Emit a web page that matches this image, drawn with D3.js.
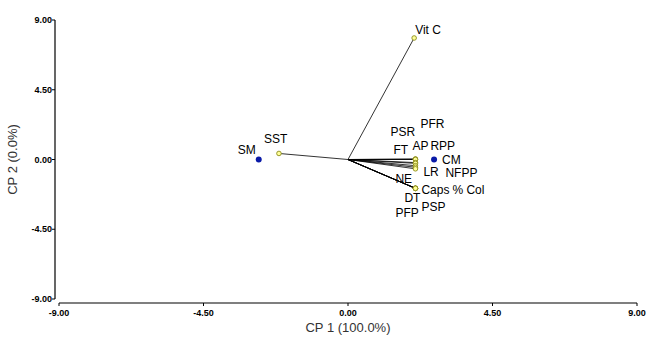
<!DOCTYPE html>
<html>
  <head>
    <meta charset="utf-8">
    <script src="https://d3js.org/d3.v7.min.js"></script>
    <style>
      body, html { margin: 0; padding: 0; background: #fff; overflow: hidden; }
      text { font-family: Arial, 'Liberation Sans', sans-serif; }
      .tickText { font-size: 9px; font-weight: bold; fill: #000; }
      .varLabel { font-size: 12px; fill: #000; }
      .axisTitle { font-size: 13px; fill: #333; }
    </style>
  </head>
  <body>
    <svg id="chart" width="651" height="345"></svg>
    <script>
      // variable loadings (CP 1, CP 2)
      const varNames = ["Vit C", "SST", "PFR", "PSR", "FT", "AP", "RPP", "LR", "NFPP", "NE", "Caps", "% Col", "DT", "PSP", "PFP"];
      const varX = [2.06, -2.15, 2.10, 2.10, 2.10, 2.10, 2.10, 2.10, 2.10, 2.10, 2.10, 2.10, 2.10, 2.10, 2.10];
      const varY = [7.84, 0.39, 0.03, 0.02, 0.0, -0.2, -0.25, -0.4, -0.5, -0.6, -1.86, -1.86, -1.86, -1.86, -1.86];
      // treatment scores
      const objNames = ["SM", "CM"];
      const objX = [-2.78, 2.68];
      const objY = [0.0, 0.0];
      const ticks = [-9, -4.5, 0, 4.5, 9];

      // label placement offsets (px) relative to each marker
      const labelOffset = {
        "Vit C": [1, -4], "SST": [-15, -10], "SM": [-21, -6], "CM": [8, 4],
        "PSR": [-25, -23], "PFR": [5, -31], "AP": [-3, -13], "RPP": [15, -13],
        "FT": [-22, -6], "LR": [8, 10], "NFPP": [30, 10], "NE": [-20, 14],
        "Caps": [6, 6], "% Col": [37, 6], "DT": [-11, 14], "PSP": [6, 23], "PFP": [-20, 29]
      };

      const svg = d3.select("#chart");
      const x = d3.scaleLinear().domain([-9, 9]).range([59, 637]);
      const y = d3.scaleLinear().domain([-9, 9]).range([299, 20]);
      const fmt = d => d.toFixed(2);

      // y axis
      svg.append("line").attr("x1", 55).attr("x2", 55).attr("y1", y(9)).attr("y2", y(-9))
        .attr("stroke", "#000").attr("stroke-width", 1.2);
      svg.selectAll(".yt").data(ticks).enter().append("line")
        .attr("x1", 52).attr("x2", 55).attr("y1", d => y(d)).attr("y2", d => y(d))
        .attr("stroke", "#000");
      svg.selectAll(".yl").data(ticks).enter().append("text")
        .attr("class", "tickText").attr("x", 52).attr("y", d => y(d) + 3)
        .attr("text-anchor", "end").text(d => fmt(d));

      // x axis
      svg.append("line").attr("x1", x(-9)).attr("x2", x(9)).attr("y1", 303).attr("y2", 303)
        .attr("stroke", "#7f7f7f").attr("stroke-width", 2);
      svg.selectAll(".xt").data(ticks).enter().append("line")
        .attr("x1", d => x(d)).attr("x2", d => x(d)).attr("y1", 303).attr("y2", 306)
        .attr("stroke", "#000");
      svg.selectAll(".xl").data(ticks).enter().append("text")
        .attr("class", "tickText").attr("x", d => x(d)).attr("y", 316)
        .attr("text-anchor", "middle").text(d => fmt(d));

      svg.append("text").attr("class", "axisTitle").attr("x", x(0)).attr("y", 332)
        .attr("text-anchor", "middle").text("CP 1 (100.0%)");
      svg.append("text").attr("class", "axisTitle")
        .attr("transform", `translate(17,${y(0)}) rotate(-90)`)
        .attr("text-anchor", "middle").text("CP 2 (0.0%)");

      const vars = varNames.map((n, i) => ({ name: n, cx: varX[i], cy: varY[i] }));
      const objs = objNames.map((n, i) => ({ name: n, cx: objX[i], cy: objY[i] }));

      // vectors
      svg.selectAll(".vec").data(vars).enter().append("line")
        .attr("x1", x(0)).attr("y1", y(0))
        .attr("x2", d => x(d.cx)).attr("y2", d => y(d.cy))
        .attr("stroke", "#000").attr("stroke-width", 0.8);

      svg.selectAll(".vpt").data(vars).enter().append("circle")
        .attr("cx", d => x(d.cx)).attr("cy", d => y(d.cy)).attr("r", 2.3)
        .attr("fill", "#ffff99").attr("stroke", "#8c8c1a").attr("stroke-width", 0.9);

      svg.selectAll(".opt").data(objs).enter().append("circle")
        .attr("cx", d => x(d.cx)).attr("cy", d => y(d.cy)).attr("r", 3)
        .attr("fill", "#0a1aa8");

      svg.selectAll(".lab").data(vars.concat(objs)).enter().append("text")
        .attr("class", "varLabel")
        .attr("x", d => x(d.cx) + labelOffset[d.name][0])
        .attr("y", d => y(d.cy) + labelOffset[d.name][1])
        .text(d => d.name);
    </script>
  </body>
</html>
